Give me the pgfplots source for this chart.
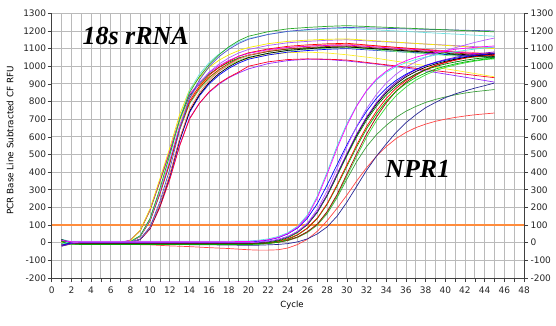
\documentclass[border=0pt]{standalone}
\usepackage{pgfplots}
\pgfplotsset{compat=1.18}
\usepackage{pgfplotstable}
\usepackage{fontspec}
\setmainfont{DejaVu Sans}
\newfontfamily\tnr{Liberation Serif}

\definecolor{cg1}{RGB}{40,170,40}
\definecolor{cg2}{RGB}{80,80,200}
\definecolor{cg3}{RGB}{110,225,225}
\definecolor{cg4}{RGB}{245,235,0}
\definecolor{cg5}{RGB}{170,90,255}
\definecolor{cg6}{RGB}{255,0,0}
\definecolor{cg7}{RGB}{255,110,110}
\definecolor{cg8}{RGB}{150,50,0}
\definecolor{cg9}{RGB}{0,0,0}
\definecolor{cg10}{RGB}{0,130,0}
\definecolor{cg11}{RGB}{120,240,120}
\definecolor{cg12}{RGB}{0,0,255}
\definecolor{cg13}{RGB}{255,240,40}
\definecolor{cg14}{RGB}{255,0,40}
\definecolor{cg15}{RGB}{150,40,255}
\definecolor{cg16}{RGB}{230,0,230}

\definecolor{nA}{RGB}{255,0,255}
\definecolor{nB}{RGB}{80,230,230}
\definecolor{nC}{RGB}{180,90,255}
\definecolor{nD}{RGB}{0,0,255}
\definecolor{nE}{RGB}{0,128,0}
\definecolor{nF}{RGB}{0,0,0}
\definecolor{nG}{RGB}{255,0,0}
\definecolor{nH}{RGB}{0,190,0}
\definecolor{nJ}{RGB}{120,0,200}
\definecolor{nK}{RGB}{170,0,0}
\definecolor{nL}{RGB}{60,220,60}
\definecolor{nnl}{RGB}{40,40,150}
\definecolor{ngl}{RGB}{60,160,60}
\definecolor{nrl}{RGB}{255,70,70}
\definecolor{thr}{RGB}{255,140,60}

\pgfplotstableread{
c g1 g2 g3 g4 g5 g6 g7 g8 g9 g10 g11 g12 g13 g14 g15 g16
1 15 -10 20 5 -15 10 -20 8 12 -5 18 -12 3 10 -8 14
2 3 -4 6 2 -5 4 -6 2 3 -2 5 -4 0 3 -3 4
3 0 -2 2 0 -3 2 -3 0 1 -1 2 -2 -3 1 -2 2
4 0 -2 1 -5 -3 1 -3 0 1 -1 1 -2 -8 0 -2 1
5 0 -2 1 -8 -3 1 -3 0 1 -1 1 -2 -10 0 -2 1
6 0 -2 1 -8 -3 1 -3 0 1 -1 1 -2 -10 0 -2 1
7 1 -1 2 -4 -1 2 -2 1 1 0 2 -1 -5 0 -1 2
8 6 2 7 12 5 6 2 6 3 14 6 2 11 2 2 15
9 40 21 39 72 37 36 20 36 19 69 36 19 68 18 19 70
10 138 91 137 193 129 127 84 125 83 186 124 82 182 78 81 187
11 307 234 304 363 288 282 216 279 213 349 276 212 343 201 207 352
12 498 417 492 537 466 457 385 451 380 516 447 377 507 358 365 520
13 698 640 701 726 664 652 590 643 583 698 638 577 685 548 553 704
14 850 817 863 866 817 802 754 792 744 833 785 737 818 700 705 840
15 940 921 954 936 903 887 849 875 838 899 867 831 883 789 790 907
16 1010 998 1021 993 966 949 920 937 908 955 928 900 937 855 852 963
17 1065 1054 1069 1034 1012 994 972 981 959 993 972 950 976 903 898 1002
18 1110 1096 1106 1065 1047 1028 1010 1015 997 1023 1006 988 1005 938 935 1033
19 1145 1129 1136 1089 1075 1057 1041 1043 1027 1047 1033 1018 1028 967 962 1056
20 1170 1153 1157 1106 1095 1076 1063 1061 1049 1063 1052 1040 1044 1000 985 1073
22 1196 1180 1181 1128 1118 1098 1088 1084 1073 1084 1074 1064 1065 1025 1015 1094
24 1212 1198 1197 1141 1133 1113 1105 1098 1090 1097 1088 1080 1077 1038 1032 1107
26 1220 1208 1205 1148 1141 1121 1114 1106 1099 1103 1096 1089 1080 1042 1040 1113
28 1226 1215 1211 1153 1147 1127 1121 1112 1106 1108 1102 1096 1075 1040 1038 1118
30 1230 1220 1215 1155 1150 1130 1125 1115 1110 1110 1105 1100 1065 1035 1030 1120
33 1223 1216 1206 1144 1141 1116 1114 1104 1099 1098 1092 1090 1045 1015 1012 1109
36 1216 1212 1197 1133 1132 1103 1103 1093 1088 1086 1079 1080 1020 995 990 1098
39 1209 1208 1188 1122 1123 1089 1092 1082 1077 1074 1066 1070 995 975 965 1087
42 1202 1204 1179 1111 1114 1076 1081 1071 1066 1062 1053 1060 968 955 938 1076
45 1195 1200 1170 1100 1105 1062 1070 1060 1055 1050 1040 1050 940 935 910 1065
}\tabA

\pgfplotstableread{
c A B C D E F G H J K L nl gl rl
1 12 -8 15 -15 5 18 -12 10 -20 8 -5 15 -18 10
2 6 9 2 0 -6 0 -4 -8 -4 -3 -2 -5 -8 2
3 5 8 0 3 -8 -3 -5 -10 0 -6 -4 -6 -8 -3
4 5 8 0 3 -8 -3 -5 -10 0 -6 -4 -6 -8 -5
6 5 8 0 3 -8 -3 -5 -10 0 -6 -4 -7 -8 -8
8 5 8 0 3 -8 -3 -5 -10 0 -6 -4 -8 -8 -10
10 5 8 0 3 -8 -3 -5 -10 0 -6 -4 -9 -8 -12
12 5 8 0 3 -8 -3 -5 -10 0 -6 -4 -10 -8 -18
14 5 8 0 3 -8 -3 -5 -10 0 -6 -4 -11 -8 -22
16 5 8 0 3 -8 -3 -5 -10 0 -6 -4 -12 -8 -28
18 6 9 0 3 -8 -3 -5 -10 0 -6 -4 -13 -8 -33
20 7 10 0 4 -8 -3 -5 -10 0 -6 -4 -15 -8 -40
21 10 14 3 8 -5 0 -4 -9 3 -6 -4 -14 -6 -42
22 17 22 8 15 0 5 0 -5 8 -3 -1 -12 -3 -42
23 30 35 18 28 10 15 8 3 18 2 4 -10 3 -40
24 52 57 35 50 28 33 22 18 35 14 14 -5 12 -30
25 88 94 65 84 58 62 46 44 63 33 32 5 30 -10
26 150 158 112 140 103 105 84 82 106 63 61 22 58 20
27 255 265 190 222 172 175 140 137 177 106 103 50 100 65
28 390 402 295 328 266 270 222 218 273 177 172 90 165 125
29 535 548 420 442 379 385 328 321 389 273 265 150 255 195
30 665 675 545 555 493 500 442 433 505 389 377 230 360 270
31 775 778 660 658 601 610 555 544 616 505 490 320 460 350
32 862 860 760 745 694 705 658 645 712 616 598 410 545 425
33 927 921 840 818 773 785 745 730 793 712 691 490 612 490
34 972 965 905 875 837 850 818 802 859 793 769 560 665 545
35 1006 997 955 920 887 900 875 858 909 859 833 625 710 590
36 1031 1020 995 955 926 940 920 902 949 909 882 680 745 625
37 1051 1038 1025 982 955 970 955 936 980 949 921 725 772 652
38 1066 1052 1050 1004 980 995 982 962 1005 980 951 765 795 672
39 1078 1063 1070 1020 998 1013 1004 984 1023 1005 975 795 812 688
40 1088 1073 1088 1034 1013 1028 1020 1000 1038 1023 993 822 826 700
41 1096 1082 1105 1045 1024 1040 1034 1013 1050 1038 1007 843 838 710
42 1102 1090 1120 1054 1034 1050 1045 1024 1060 1050 1019 860 848 718
43 1107 1097 1135 1061 1042 1058 1054 1033 1069 1061 1029 876 856 725
44 1111 1104 1148 1067 1048 1064 1061 1040 1075 1069 1037 890 862 730
45 1115 1110 1160 1072 1054 1070 1067 1046 1081 1075 1043 905 868 735
}\tabB

\pgfplotsset{
  common/.style={
    scale only axis, width=472.3pt, height=264.7pt,
    xmin=0, xmax=48, ymin=-200, ymax=1300,
    ytick={-200,-100,...,1300},
    tick align=outside, major tick length=4pt, minor tick length=4pt,
    tick style={black!75, line width=0.6pt},
    axis line style={black!75, line width=0.8pt, -},
    ticklabel style={font=\fontsize{9}{10}\selectfont, text=black!85},
    /pgf/number format/assume math mode=true,
    /pgf/number format/1000 sep={},
  }
}

\begin{document}
\begin{tikzpicture}
\path[use as bounding box] (-51.7pt,-47pt) rectangle (504.3pt,278pt);
\begin{axis}[common,
  axis x line*=bottom, axis y line*=left,
  xtick={0,2,...,48}, minor xtick={1,3,...,47},
  grid=both,
  major grid style={draw=black!27, line width=0.8pt},
  minor grid style={draw=black!27, line width=0.8pt},
  xticklabel style={yshift=-1.5pt},
  yticklabel style={xshift=2pt},
  xlabel={Cycle},
  xlabel style={font=\fontsize{8.5}{9}\selectfont, at={(axis description cs:0.509,-0.088)}, anchor=north, inner sep=0pt},
  ylabel={PCR Base Line Subtracted CF RFU},
  ylabel style={font=\fontsize{8.8}{9}\selectfont, at={(axis description cs:-0.088,0.52)}, anchor=center, inner sep=0pt},
  every axis plot/.append style={line width=0.7pt, line join=round},
  clip=true,
]
\addplot[thr, line width=1.3pt] coordinates {(0,100) (48,100)};

\addplot[cg15] table[x=c,y=g15]{\tabA};
\addplot[cg14] table[x=c,y=g14]{\tabA};
\addplot[cg13] table[x=c,y=g13]{\tabA};
\addplot[cg12] table[x=c,y=g12]{\tabA};
\addplot[cg11] table[x=c,y=g11]{\tabA};
\addplot[cg10] table[x=c,y=g10]{\tabA};
\addplot[cg9] table[x=c,y=g9]{\tabA};
\addplot[cg8] table[x=c,y=g8]{\tabA};
\addplot[cg7] table[x=c,y=g7]{\tabA};
\addplot[cg6] table[x=c,y=g6]{\tabA};
\addplot[cg16] table[x=c,y=g16]{\tabA};
\addplot[cg5] table[x=c,y=g5]{\tabA};
\addplot[cg4] table[x=c,y=g4]{\tabA};
\addplot[cg3] table[x=c,y=g3]{\tabA};
\addplot[cg2] table[x=c,y=g2]{\tabA};
\addplot[cg1] table[x=c,y=g1]{\tabA};

\addplot[nrl] table[x=c,y=rl]{\tabB};
\addplot[ngl] table[x=c,y=gl]{\tabB};
\addplot[nnl] table[x=c,y=nl]{\tabB};
\addplot[nL] table[x=c,y=L]{\tabB};
\addplot[nK] table[x=c,y=K]{\tabB};
\addplot[nH] table[x=c,y=H]{\tabB};
\addplot[nG] table[x=c,y=G]{\tabB};
\addplot[nF] table[x=c,y=F]{\tabB};
\addplot[nE] table[x=c,y=E]{\tabB};
\addplot[nJ] table[x=c,y=J]{\tabB};
\addplot[nD] table[x=c,y=D]{\tabB};
\addplot[nC] table[x=c,y=C]{\tabB};
\addplot[nB] table[x=c,y=B]{\tabB};
\addplot[nA] table[x=c,y=A]{\tabB};

\node[font=\tnr\bfseries\itshape\fontsize{26}{26}\selectfont] at (axis cs:8.54,1170) {18s rRNA};
\node[font=\tnr\bfseries\itshape\fontsize{26}{26}\selectfont] at (axis cs:37.2,420) {NPR1};
\node[font=\fontsize{5.8}{6}\selectfont, text=black!85, inner sep=0pt] at (axis description cs:0.466,-0.148) {PCR Amplification vs Cycle: 060706-lema-fatatwang.odm};
\end{axis}
\begin{axis}[common,
  axis y line*=right, axis x line=none,
  yticklabel style={xshift=-1pt},
]
\end{axis}
\end{tikzpicture}
\end{document}
